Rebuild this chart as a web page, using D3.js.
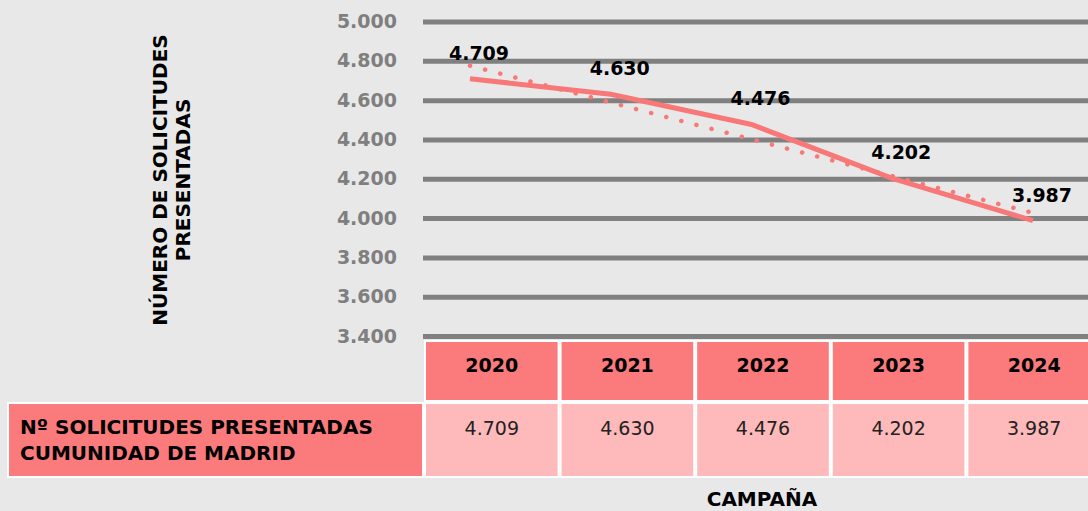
<!DOCTYPE html>
<html>
<head>
<meta charset="utf-8">
<script src="https://cdn.jsdelivr.net/npm/d3@7"></script>
<style>
  body { margin: 0; background: #e8e8e8; }
  svg { display: block; font-family: "DejaVu Sans", sans-serif; }
</style>
</head>
<body>
<svg width="1088" height="511"></svg>
<script>
// data
var years = ["2020", "2021", "2022", "2023", "2024"];
var solicitudes = [4709, 4630, 4476, 4202, 3987];
var yTicks = [3400, 3600, 3800, 4000, 4200, 4400, 4600, 4800, 5000];
var yTitle = ["NÚMERO DE SOLICITUDES", "PRESENTADAS"];
var rowLabel = ["Nº SOLICITUDES PRESENTADAS", "CUMUNIDAD DE MADRID"];
var xTitle = "CAMPAÑA";

var salmon = "#fb7a7b", pink = "#feb9ba", lineCol = "#f87878", grid = "#808080";

var es = d3.formatLocale({decimal: ",", thousands: ".", grouping: [3], currency: ["", "€"]});
var fmt = es.format(",.0f");

var svg = d3.select("svg");

// scales
var y = d3.scaleLinear().domain([3400, 5000]).range([336, 21.5]);
var x = d3.scalePoint().domain(years).range([470, 1033]);
var col = d3.scaleBand().domain(years).range([424, 1102]);

// y axis + gridlines
var yAxis = svg.append("g")
    .attr("transform", "translate(423,0)")
    .call(d3.axisLeft(y).tickValues(yTicks).tickFormat(fmt).tickSize(-665).tickPadding(26));
yAxis.select(".domain").remove();
yAxis.selectAll(".tick line").attr("stroke", grid).attr("stroke-width", 5);
yAxis.selectAll(".tick text")
    .attr("fill", "#7f7f7f")
    .attr("font-size", 19)
    .attr("font-weight", 700)
    .attr("font-family", "DejaVu Sans, sans-serif");

// y title
svg.append("text")
    .attr("transform", "translate(171,180) rotate(-90)")
    .attr("text-anchor", "middle")
    .attr("font-size", 20)
    .attr("font-weight", 700)
    .selectAll("tspan")
    .data(yTitle)
    .enter()
    .append("tspan")
    .attr("x", 0)
    .attr("y", function(d, i){ return i * 23 - 4; })
    .text(function(d){ return d; });

// line
var pts = years.map(function(d, i){ return [d, solicitudes[i]]; });
var line = d3.line()
    .x(function(d){ return x(d[0]); })
    .y(function(d){ return y(d[1]); });

// linear trend
var n = pts.length, mx = (n - 1) / 2, my = d3.mean(solicitudes);
var slope = d3.sum(solicitudes, function(v, i){ return (i - mx) * (v - my); }) /
            d3.sum(solicitudes, function(v, i){ return (i - mx) * (i - mx); });
var trend = [[years[0], my - slope * mx], [years[n - 1], my + slope * mx]];

svg.append("path")
    .datum(trend)
    .attr("d", line)
    .attr("fill", "none")
    .attr("stroke", lineCol)
    .attr("stroke-width", 4.5)
    .attr("stroke-linecap", "round")
    .attr("stroke-dasharray", "0.1 15.5");

svg.append("path")
    .datum(pts)
    .attr("d", line)
    .attr("fill", "none")
    .attr("stroke", lineCol)
    .attr("stroke-width", 5);

// data labels
svg.selectAll("text.lbl")
    .data(pts)
    .enter()
    .append("text")
    .attr("class", "lbl")
    .attr("x", function(d){ return x(d[0]) + 9; })
    .attr("y", function(d){ return y(d[1]) - 19; })
    .attr("text-anchor", "middle")
    .attr("font-size", 19)
    .attr("font-weight", 700)
    .text(function(d){ return fmt(d[1]); });

// table
var head = svg.append("g");
head.selectAll("rect")
    .data(years)
    .enter()
    .append("rect")
    .attr("x", function(d){ return col(d) + 1; })
    .attr("y", 341)
    .attr("width", col.bandwidth() - 2)
    .attr("height", 60)
    .attr("fill", salmon)
    .attr("stroke", "#fff")
    .attr("stroke-width", 2);
head.selectAll("text")
    .data(years)
    .enter()
    .append("text")
    .attr("x", function(d){ return col(d) + col.bandwidth() / 2; })
    .attr("y", 365)
    .attr("dy", "0.35em")
    .attr("text-anchor", "middle")
    .attr("font-size", 19)
    .attr("font-weight", 700)
    .text(function(d){ return d; });

svg.append("rect")
    .attr("x", 8).attr("y", 403)
    .attr("width", 415).attr("height", 74)
    .attr("fill", salmon)
    .attr("stroke", "#fff")
    .attr("stroke-width", 2);
svg.append("text")
    .attr("font-size", 20)
    .attr("font-weight", 700)
    .selectAll("tspan")
    .data(rowLabel)
    .enter()
    .append("tspan")
    .attr("x", 20)
    .attr("y", function(d, i){ return 434 + i * 26; })
    .text(function(d){ return d; });

var body = svg.append("g");
body.selectAll("rect")
    .data(pts)
    .enter()
    .append("rect")
    .attr("x", function(d){ return col(d[0]) + 1; })
    .attr("y", 403)
    .attr("width", col.bandwidth() - 2)
    .attr("height", 74)
    .attr("fill", pink)
    .attr("stroke", "#fff")
    .attr("stroke-width", 2);
body.selectAll("text")
    .data(pts)
    .enter()
    .append("text")
    .attr("x", function(d){ return col(d[0]) + col.bandwidth() / 2; })
    .attr("y", 428)
    .attr("dy", "0.35em")
    .attr("text-anchor", "middle")
    .attr("font-size", 19)
    .attr("font-weight", 400)
    .attr("fill", "#222")
    .text(function(d){ return fmt(d[1]); });

// x title
svg.append("text")
    .attr("x", 762).attr("y", 506)
    .attr("text-anchor", "middle")
    .attr("font-size", 20)
    .attr("font-weight", 700)
    .text(xTitle);
</script>
</body>
</html>
